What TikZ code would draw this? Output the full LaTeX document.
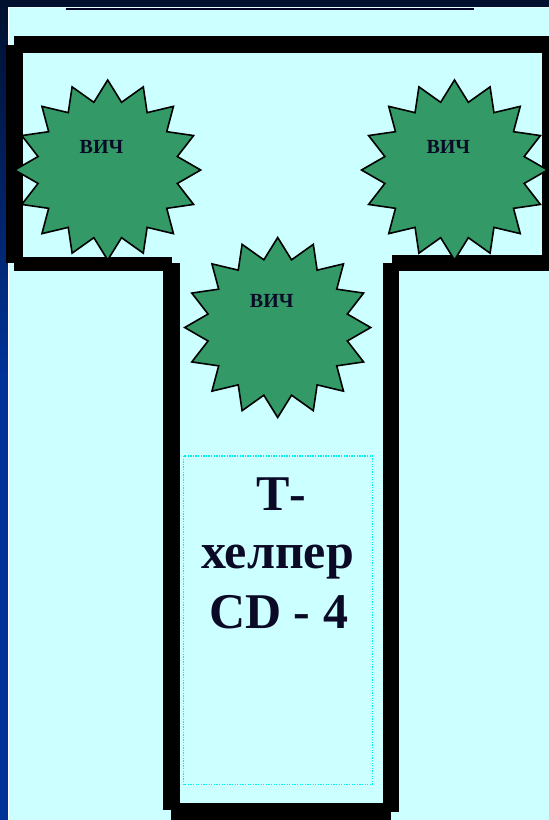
\documentclass[tikz,border=0pt]{standalone}
\usepackage{fontspec}
\setmainfont{Liberation Serif}
\definecolor{bgcyan}{HTML}{CCFFFF}
\definecolor{navytop}{HTML}{00102E}
\definecolor{stripblue}{HTML}{003399}
\definecolor{virgreen}{HTML}{339966}
\definecolor{inkdark}{HTML}{0A0A26}
\definecolor{dotcyan}{HTML}{00F0F0}
\tikzset{
  wall/.style={fill=black},
  virstar/.style={fill=virgreen, draw=black, line width=1.6pt, line join=miter},
  virlabel/.style={font=\fontsize{20}{24}\selectfont\bfseries, text=inkdark, anchor=base, inner sep=0pt},
  biglabel/.style={font=\fontsize{50}{58}\selectfont\bfseries, text=inkdark, anchor=base, inner sep=0pt},
  helperbox/.style={draw=dotcyan, line width=1.3pt, dash pattern=on 1.3pt off 1.3pt},
  pics/virus/.style={code={
    \draw[virstar] (90:93 and 90)
      \foreach \i in {0,...,15} { -- ({90+\i*22.5}:93 and 90) -- ({101.25+\i*22.5}:71 and 69) } -- cycle;
  }}
}
\begin{document}
\begin{tikzpicture}[x=1pt,y=-1pt]
\useasboundingbox (0,0) rectangle (549,820);
% background
\fill[bgcyan] (0,0) rectangle (549,820);
\shade[top color=navytop, bottom color=stripblue] (0,0) rectangle (8,380);
\fill[stripblue] (0,380) rectangle (8,820);
\fill[navytop] (0,0) rectangle (549,7);
\draw[white, line width=1pt] (8.5,7) -- (8.5,820);
\draw[white!50!bgcyan, line width=1pt] (8,7.5) -- (549,7.5);
\draw[black!85!blue, line width=1.5pt] (65.5,9.2) -- (474,9.2);
% T-shaped wall
\fill[wall] (14,36) rectangle (549,52.5);
\fill[wall] (6,45) rectangle (22.5,263);
\fill[wall] (14,257) rectangle (172,271);
\fill[wall] (163,263) rectangle (180,810);
\fill[wall] (171,803) rectangle (391,820);
\fill[wall] (383,263) rectangle (399,811.7);
\fill[wall] (391.5,255) rectangle (549,271);
\fill[wall] (541.5,44) rectangle (549,271);
% T-helper box
\draw[helperbox] (183.5,456) rectangle (372.5,784.5);
\node[biglabel] (t1) at (281,510) {Т-};
\node[biglabel] (t2) at (277.5,568.3) {хелпер};
\node[biglabel] (t3) at (278.7,628.3) {CD - 4};
% viruses
\pic (s1) at (107.7,170) {virus};
\pic (s2) at (454.5,170) {virus};
\pic (s3) at (277.7,327.5) {virus};
\node[virlabel] (v1) at (101.5,153.3) {ВИЧ};
\node[virlabel] (v2) at (448.3,153.3) {ВИЧ};
\node[virlabel] (v3) at (271.7,307.7) {ВИЧ};
\end{tikzpicture}
\end{document}
